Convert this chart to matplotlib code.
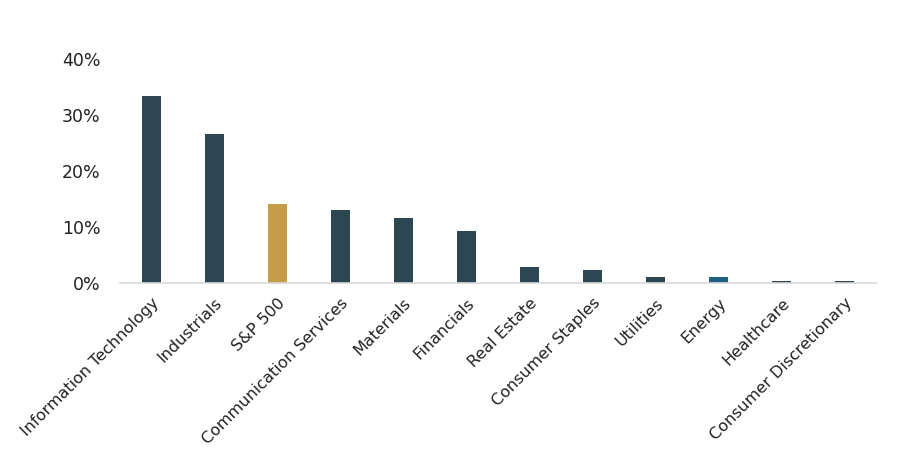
import matplotlib.pyplot as plt
from matplotlib.ticker import FuncFormatter

plt.rcParams["font.family"] = ["DejaVu Sans"]

sectors = ["Information Technology", "Industrials", "S&P 500", "Communication Services",
           "Materials", "Financials", "Real Estate", "Consumer Staples", "Utilities",
           "Energy", "Healthcare", "Consumer Discretionary"]
returns = [33.4, 26.6, 14.1, 13.0, 11.6, 9.3, 2.9, 2.4, 1.1, 1.1, 0.35, 0.35]

dark = "#2C4652"
colors = [dark] * len(sectors)
colors[2] = "#C69C48"   # S&P 500
colors[9] = "#1E6184"   # Energy

fig = plt.figure(figsize=(9.01, 4.65), dpi=100)
ax = fig.add_axes([120 / 901, 1 - 283 / 465, 756 / 901, 224 / 465])

x = range(len(sectors))
ax.bar(x, returns, width=0.3, color=colors)

ax.set_xlim(-0.5, len(sectors) - 0.5)
ax.set_ylim(0, 40)
ax.set_yticks([0, 10, 20, 30, 40])
ax.yaxis.set_major_formatter(FuncFormatter(lambda v, p: f"{v:.0f}%"))
ax.set_xticks(list(x))
ax.set_xticklabels(sectors, rotation=45, ha="right", rotation_mode="anchor")

for s in ["top", "right", "left"]:
    ax.spines[s].set_visible(False)
ax.spines["bottom"].set_color("#D9D9D9")
ax.spines["bottom"].set_linewidth(1.2)
ax.tick_params(axis="x", length=0, labelsize=11.5, colors="#222222", pad=9)
ax.tick_params(axis="y", length=0, labelsize=12.5, colors="#222222", pad=14)

fig.savefig("out.png", dpi=100)
